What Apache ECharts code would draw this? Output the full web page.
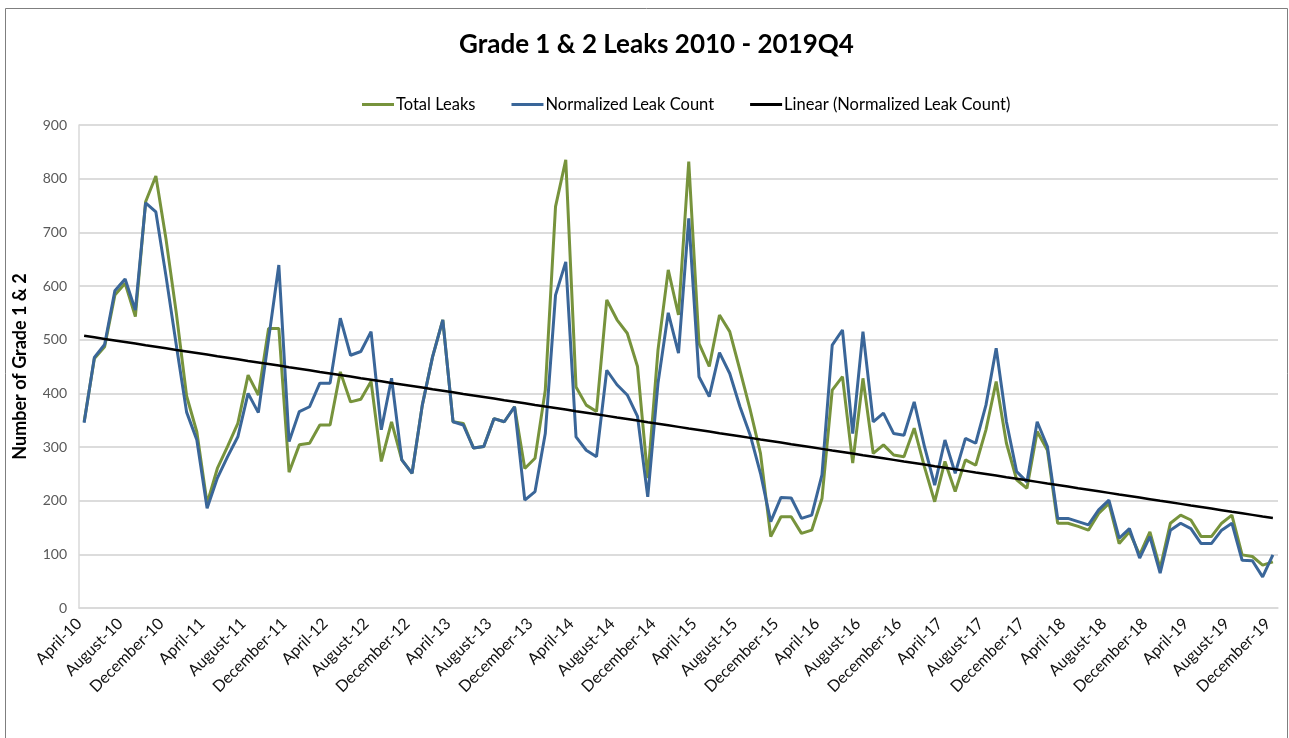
<!DOCTYPE html>
<html>
<head>
<meta charset="utf-8">
<title>Grade 1 & 2 Leaks</title>
<script src="https://cdn.jsdelivr.net/npm/echarts@6/dist/echarts.min.js"></script>
<style>
  html, body { margin: 0; padding: 0; background: #fff; }
  #main { width: 1289px; height: 738px; }
</style>
</head>
<body>
<div id="main"></div>
<script>
// month names, first month and count of the monthly series
var monthNames = ['January', 'February', 'March', 'April', 'May', 'June', 'July',
  'August', 'September', 'October', 'November', 'December']
var startYear = 2010
var startMonth = 3 // April
var monthCount = 117 // April-10 .. December-19

// Total Leaks (green)
var totalLeaks = [
  347, 465, 487, 583, 605, 543, 757, 805, 686, 549, 395, 328,
  195, 260, 301, 344, 434, 397, 521, 521, 253, 304, 307, 341,
  341, 440, 384, 389, 422, 273, 347, 276, 251, 378, 468, 537,
  347, 344, 298, 301, 353, 347, 375, 260, 279, 406, 748, 835,
  412, 378, 366, 574, 537, 512, 450, 242, 481, 630, 546, 832,
  493, 450, 546, 515, 443, 369, 288, 133, 170, 170, 139, 145,
  204, 406, 431, 270, 428, 288, 304, 285, 282, 335, 263, 198,
  273, 217, 276, 266, 332, 422, 307, 239, 223, 329, 294, 158,
  158, 152, 145, 176, 195, 120, 142, 99, 142, 74, 158, 173,
  164, 133, 133, 158, 173, 99, 96, 80, 86
]

// Normalized Leak Count (blue)
var normalizedLeaks = [
  345, 467, 491, 591, 613, 555, 755, 738, 617, 489, 365, 313,
  186, 242, 282, 319, 400, 364, 501, 639, 310, 366, 375, 419,
  419, 540, 471, 478, 515, 332, 428, 276, 251, 378, 468, 537,
  347, 341, 298, 301, 353, 347, 375, 201, 217, 325, 583, 645,
  319, 294, 282, 443, 416, 397, 357, 207, 419, 550, 475, 726,
  431, 394, 476, 437, 375, 322, 251, 161, 206, 205, 167, 173,
  248, 490, 518, 325, 515, 347, 363, 325, 322, 384, 301, 229,
  313, 251, 316, 307, 378, 484, 347, 254, 235, 347, 301, 167,
  167, 161, 155, 183, 201, 130, 148, 93, 133, 65, 145, 158,
  148, 120, 120, 145, 158, 89, 88, 58, 99
]

var yTicks = [0, 100, 200, 300, 400, 500, 600, 700, 800, 900]

var categories = []
for (var i = 0; i < monthCount; i++) {
  var m = (startMonth + i) % 12
  var y = startYear + Math.floor((startMonth + i) / 12)
  categories.push(monthNames[m] + '-' + String(y).slice(2))
}

// least squares trend of the normalized count, like Excel's linear trendline
var n = normalizedLeaks.length
var sx = 0, sy = 0, sxy = 0, sxx = 0
normalizedLeaks.forEach(function (v, k) {
  sx += k; sy += v; sxy += k * v; sxx += k * k
})
var slope = (n * sxy - sx * sy) / (n * sxx - sx * sx)
var icept = (sy - slope * sx) / n
var trend = normalizedLeaks.map(function (v, k) { return +(icept + slope * k).toFixed(1) })

var chart = echarts.init(document.getElementById('main'))
var font = 'Lato, "Open Sans", sans-serif'

var option = {
  backgroundColor: '#ffffff',
  animation: false,
  textStyle: { fontFamily: font },
  graphic: [{
    type: 'rect',
    shape: { x: 5.5, y: 8.5, width: 1282, height: 740 },
    style: { fill: 'none', stroke: '#7f7f7f', lineWidth: 1 },
    silent: true
  }],
  title: {
    text: 'Grade 1 & 2 Leaks 2010 - 2019Q4',
    left: 454,
    top: 27,
    textStyle: { fontFamily: font, fontSize: 26, fontWeight: 'bold', color: '#000' }
  },
  legend: {
    left: 357,
    top: 91,
    itemWidth: 32,
    itemHeight: 3,
    itemGap: 36,
    icon: 'rect',
    textStyle: { fontFamily: font, fontSize: 16.5, color: '#000', padding: [0, 0, 0, -3] },
    data: ['Total Leaks', 'Normalized Leak Count', 'Linear (Normalized Leak Count)']
  },
  grid: { left: 79, right: 11, top: 125, bottom: 130, containLabel: false },
  xAxis: {
    type: 'category',
    data: categories,
    boundaryGap: true,
    axisLine: { lineStyle: { color: '#d9d9d9', width: 1.5 } },
    axisTick: { show: false },
    axisLabel: {
      interval: 3,
      rotate: 45,
      margin: 8,
      padding: [0, 7, 0, 0],
      fontFamily: font,
      fontSize: 16,
      color: '#111'
    },
    splitLine: { show: false }
  },
  yAxis: {
    type: 'value',
    min: yTicks[0],
    max: yTicks[yTicks.length - 1],
    interval: 100,
    name: 'Number of Grade 1 & 2',
    nameLocation: 'middle',
    nameGap: 50,
    nameTextStyle: { fontFamily: font, fontSize: 18, fontWeight: 'bold', color: '#000' },
    axisLine: { show: true, lineStyle: { color: '#d9d9d9', width: 1.5 } },
    axisTick: { show: false },
    axisLabel: { fontFamily: font, fontSize: 14, color: '#595959', margin: 12 },
    splitLine: { lineStyle: { color: '#d0d0d0', width: 1.5 } }
  },
  series: [{
    name: 'Total Leaks',
    type: 'line',
    data: totalLeaks,
    symbol: 'none',
    itemStyle: { color: '#77933c' },
    lineStyle: { color: '#77933c', width: 3 },
    z: 2
  }, {
    name: 'Normalized Leak Count',
    type: 'line',
    data: normalizedLeaks,
    symbol: 'none',
    itemStyle: { color: '#3a6699' },
    lineStyle: { color: '#3a6699', width: 3 },
    z: 3
  }, {
    name: 'Linear (Normalized Leak Count)',
    type: 'line',
    data: trend,
    symbol: 'none',
    itemStyle: { color: '#000' },
    lineStyle: { color: '#000', width: 2.5 },
    z: 4
  }]
}

option && chart.setOption(option)
</script>
</body>
</html>
